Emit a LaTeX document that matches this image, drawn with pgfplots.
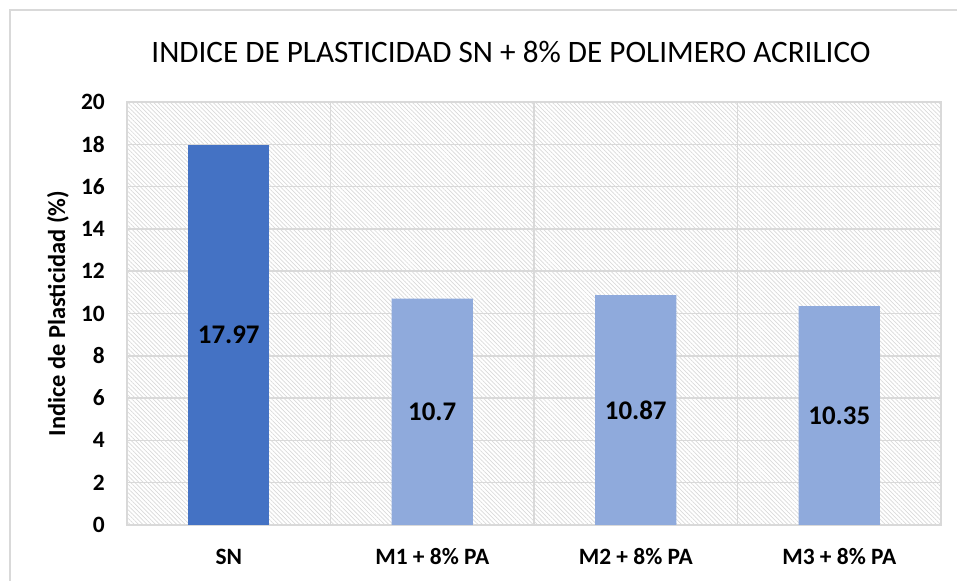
\documentclass[border=0pt]{standalone}
\usepackage{fontspec}
\setmainfont{Carlito}
\usepackage{pgfplots}
\pgfplotsset{compat=1.18}
\usetikzlibrary{patterns.meta}
\definecolor{darkb}{HTML}{4472C4}
\definecolor{lightb}{HTML}{8FAADC}
\definecolor{gridc}{HTML}{D9D9D9}
\begin{document}
\begin{tikzpicture}[x=1bp,y=1bp]
\useasboundingbox (0,0) rectangle (957,581);
\draw[gridc, line width=1.5bp] (10,0) -- (10,571) -- (957,571);
\node[font=\fontsize{31.3}{34}\selectfont] at (511,529) {INDICE DE PLASTICIDAD SN + 8\% DE POLIMERO ACRILICO};
\begin{axis}[at={(127bp,56bp)}, anchor=south west, scale only axis,
  width=814bp, height=423bp,
  xmin=-0.5, xmax=3.5, ymin=0, ymax=20,
  ytick={0,2,...,20}, xtick={0,1,2,3},
  xticklabels={SN, M1 + 8\% PA, M2 + 8\% PA, M3 + 8\% PA},
  minor xtick={0.5,1.5,2.5},
  ymajorgrids, xminorgrids,
  major tick length=0pt, minor tick length=0pt,
  grid style={gridc, line width=1.5bp},
  minor grid style={gridc, line width=1.5bp},
  axis line style={gridc, line width=1.5bp},
  axis background/.style={pattern={Lines[angle=-45,distance=3bp,line width=0.7bp]}, pattern color=black!15},
  tick label style={font=\fontsize{23.5}{26}\selectfont\bfseries},
  /pgf/number format/assume math mode=true,
  yticklabel style={anchor=east, inner sep=0pt, xshift=-22bp},
  xticklabel style={anchor=center, inner sep=0pt, yshift=-32bp},
  ylabel={Indice de Plasticidad (\%)},
  every axis y label/.style={at={(axis description cs:0,0.5)}, xshift=-69bp, rotate=90, anchor=center, font=\fontsize{24.5}{27}\selectfont\bfseries},
  visualization depends on=y \as \rawy,
  every node near coord/.append style={anchor=center, font=\fontsize{27}{30}\selectfont\bfseries, black, shift={(axis direction cs:0,-\rawy/2)}},
]
\addplot[ybar, bar width=0.4, bar shift=0pt, fill=darkb, draw=none, nodes near coords, point meta=explicit symbolic] coordinates {(0,17.97)[17.97]};
\addplot[ybar, bar width=0.4, bar shift=0pt, fill=lightb, draw=none, nodes near coords, point meta=explicit symbolic] coordinates {(1,10.7)[10.7] (2,10.87)[10.87] (3,10.35)[10.35]};
\end{axis}
\end{tikzpicture}
\end{document}
